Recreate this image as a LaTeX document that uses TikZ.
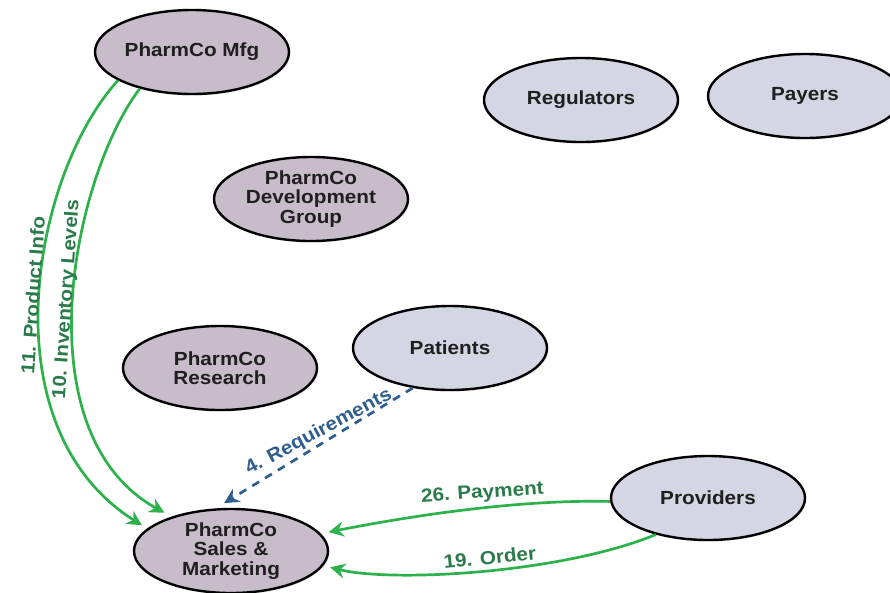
\documentclass[tikz,border=0pt]{standalone}
\usepackage{fontspec}
\newfontfamily\diagfont{Liberation Sans}[FakeStretch=1.09]
\usetikzlibrary{shapes.geometric,arrows.meta,shadows}
\definecolor{mauve}{HTML}{C8BCCB}
\definecolor{lav}{HTML}{D5D6E3}
\definecolor{flowgreen}{HTML}{2DB14A}
\definecolor{lblgreen}{HTML}{2B7A4B}
\definecolor{reqblue}{HTML}{2F5E8E}
\begin{document}
\begin{tikzpicture}[x=1pt,y=-1pt,
  actor/.style={ellipse, draw=black, line width=2.4pt, minimum width=194pt, minimum height=84pt,
    inner sep=0pt, align=center, text=black!88,
    font=\diagfont\bfseries\fontsize{19}{19.5}\selectfont,
    drop shadow={shadow xshift=1.5pt, shadow yshift=-1.5pt, opacity=0.2}},
  internal/.style={actor, fill=mauve},
  external/.style={actor, fill=lav},
  tip/.style={-{Stealth[length=15pt,width=15pt,inset=5pt]}},
  flow/.style={draw=flowgreen, line width=2.7pt, tip},
  req/.style={draw=reqblue, line width=2.7pt, dash pattern=on 8pt off 7pt, tip},
  lbl/.style={font=\diagfont\bfseries\fontsize{19}{19.5}\selectfont, inner sep=1pt, anchor=south},
  flowlbl/.style={lbl, text=lblgreen},
  reqlbl/.style={lbl, text=reqblue},
]
\useasboundingbox (0,0) rectangle (890,592);
\clip (0,0) rectangle (890,592);

\node[internal] (mfg)   at (192,52)  {PharmCo Mfg};
\node[internal] (dev)   at (311,199) {PharmCo\\Development\\Group};
\node[external] (reg)   at (581,100) {Regulators};
\node[external] (pay)   at (805,96)  {Payers};
\node[internal] (res)   at (220,368) {PharmCo\\Research};
\node[external] (pat)   at (450,348) {Patients};
\node[external] (prov)  at (708,498) {Providers};
\node[internal] (sales) at (231,551) {PharmCo\\Sales \&\\Marketing};

\draw[flow, shorten >=6pt] (mfg.201) .. controls +(-85,93) and +(-162,-102) .. (sales.165)
  node[flowlbl, pos=0.49, xshift=2pt, rotate=86] (l11) {11. Product Info};
\draw[flow, shorten >=8pt] (mfg.215) .. controls +(-68,90) and +(-150,-83) .. (sales.150)
  node[flowlbl, pos=0.49, xshift=4pt, rotate=86] (l10) {10. Inventory Levels};
\draw[req, shorten >=10pt] (pat.227) -- (sales.110)
  node[reqlbl, pos=0.45, rotate=28] (l4) {4. Requirements};
\draw[flow, shorten >=8pt] (prov.182) .. controls +(-92,-2) and +(92,-18) .. (sales.11)
  node[flowlbl, pos=0.44, yshift=3.5pt, rotate=4] (l26) {26. Payment};
\draw[flow, shorten >=7pt] (prov.215) .. controls +(-95,39) and +(68,17) .. (sales.-9)
  node[flowlbl, pos=0.47, yshift=3.5pt, rotate=6] (l19) {19. Order};
\end{tikzpicture}
\end{document}
